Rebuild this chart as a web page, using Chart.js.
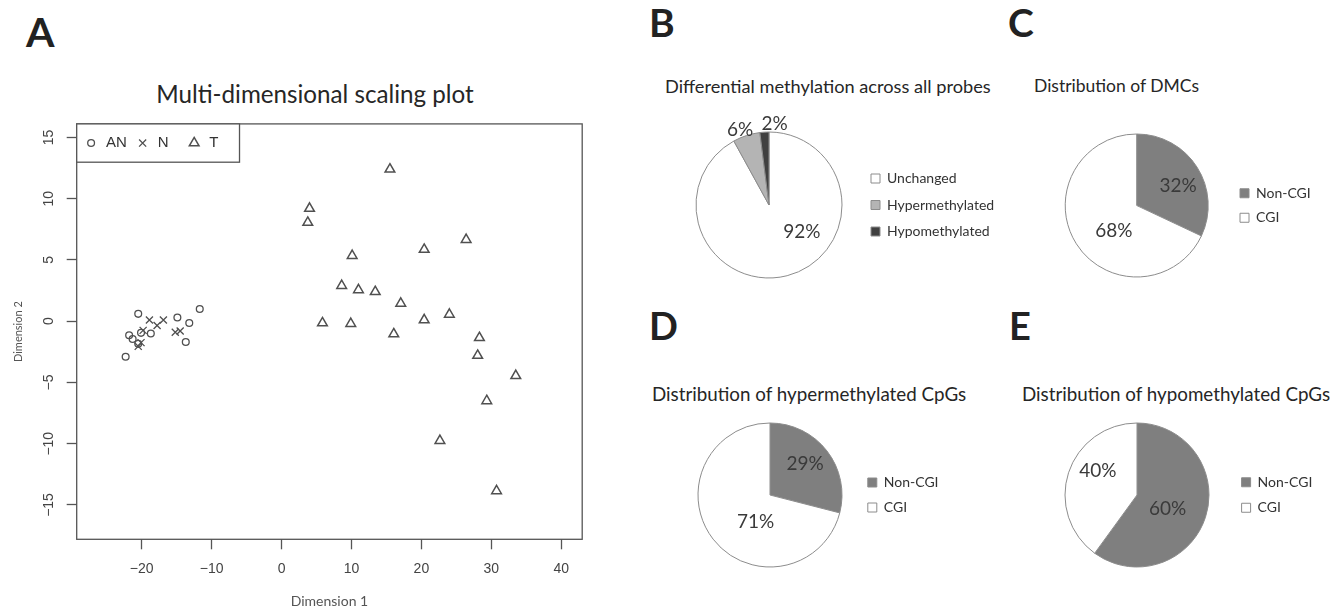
<!DOCTYPE html>
<html lang="en">
<head>
<meta charset="utf-8">
<title>Differential methylation figure</title>
<script src="https://cdn.jsdelivr.net/npm/chart.js@4.4.1/dist/chart.umd.min.js"></script>
<style>
  html, body { margin: 0; padding: 0; background: #fff; }
  body { position: relative; width: 1330px; height: 607px; overflow: hidden; }
  canvas { position: absolute; }
  .tag { position: absolute; font: 700 39px/1 Lato, sans-serif; color: #222; }
  .ttl { position: absolute; font-family: Lato, sans-serif; line-height: 1; color: #262626; white-space: nowrap; }
</style>
</head>
<body>
<div class="tag" style="left:26px;top:11px;font-size:41px">A</div>
<div class="tag" style="left:649px;top:3px">B</div>
<div class="tag" style="left:1008px;top:3px">C</div>
<div class="tag" style="left:649px;top:306px;font-size:38px">D</div>
<div class="tag" style="left:1009px;top:306px;font-size:38px">E</div>

<div class="ttl" style="left:315px;top:82px;font-size:24.2px;transform:translateX(-50%)">Multi-dimensional scaling plot</div>
<div class="ttl" style="left:665px;top:77px;font-size:18.2px">Differential methylation across all probes</div>
<div class="ttl" style="left:1034px;top:76.5px;font-size:17.5px">Distribution of DMCs</div>
<div class="ttl" style="left:652px;top:384.8px;font-size:18.8px">Distribution of hypermethylated CpGs</div>
<div class="ttl" style="left:1022px;top:384.8px;font-size:18.8px">Distribution of hypomethylated CpGs</div>

<canvas id="mds" width="600" height="500" style="left:0;top:110px"></canvas>
<canvas id="pieB"></canvas>
<canvas id="pieC"></canvas>
<canvas id="pieD"></canvas>
<canvas id="pieE"></canvas>

<script>
// --- MDS plot data ---
var anX = [-20.5, -14.9, -11.7, -13.2, -13.7, -22.3, -21.8, -21.3, -20.1, -18.7, -20.5];
var anY = [0.6, 0.3, 1.0, -0.15, -1.7, -2.9, -1.15, -1.45, -0.95, -1.0, -1.85];
var nX = [-18.9, -16.9, -17.8, -19.8, -15.2, -14.5, -20.1, -20.5];
var nY = [0.1, 0.1, -0.35, -0.75, -0.9, -0.8, -1.75, -2.05];
var tX = [15.5, 4.0, 3.75, 26.4, 20.4, 10.1, 8.6, 11.0, 13.4, 17.05, 5.85, 9.9, 20.4, 24.0, 16.05, 28.3, 28.05, 33.5, 29.35, 22.65, 30.75];
var tY = [12.4, 9.2, 8.05, 6.65, 5.85, 5.35, 2.9, 2.55, 2.4, 1.45, -0.15, -0.2, 0.1, 0.55, -1.05, -1.35, -2.8, -4.45, -6.5, -9.75, -13.85];
var xTicks = [-20, -10, 0, 10, 20, 30, 40];
var yTicks = [-15, -10, -5, 0, 5, 10, 15];

// --- pie data (percent) ---
var probeLabels = ['Unchanged', 'Hypermethylated', 'Hypomethylated'];
var probeValues = [92, 6, 2];
var cgiLabels = ['Non-CGI', 'CGI'];
var dmcValues = [32, 68];
var hyperValues = [29, 71];
var hypoValues = [60, 40];

Chart.defaults.font.family = 'Lato';

function pts(xs, ys) {
    return xs.map(function (x, i) { return { x: x, y: ys[i] }; });
}
function minus(v) {
    return String(v).replace('-', '\u2212');
}

// box round the plot area, like R's box()
var plotBox = {
    id: 'plotBox',
    beforeDatasetsDraw: function (chart) {
        var a = chart.chartArea, c = chart.ctx;
        c.save();
        c.strokeStyle = '#555';
        c.lineWidth = 1.3;
        c.strokeRect(a.left, a.top, a.right - a.left, a.bottom - a.top);
        c.restore();
    }
};

// R style horizontal legend sitting in the top-left corner
var mdsLegend = {
    id: 'mdsLegend',
    afterDatasetsDraw: function (chart, args, o) {
        var a = chart.chartArea, c = chart.ctx, sets = chart.data.datasets;
        c.save();
        c.font = o.font;
        var textW = Math.max.apply(null, sets.map(function (d) { return c.measureText(d.label).width; }));
        var step = o.symGap + textW + o.colGap;
        var x = a.left + o.inset;
        var cy = a.top + o.height / 2;
        var w = o.inset + (sets.length - 1) * step + o.symGap + textW + o.tail;
        c.fillStyle = '#fff';
        c.fillRect(a.left, a.top, w, o.height);
        c.strokeStyle = '#555';
        c.lineWidth = 1.3;
        c.strokeRect(a.left, a.top, w, o.height);
        sets.forEach(function (d, i) {
            var px = x + i * step;
            c.strokeStyle = d.pointBorderColor;
            c.fillStyle = 'rgba(0,0,0,0)';
            c.lineWidth = d.pointBorderWidth;
            Chart.helpers.drawPoint(c, { pointStyle: d.pointStyle, rotation: 0, radius: d.pointRadius, borderWidth: d.pointBorderWidth }, px, cy);
            c.fillStyle = o.color;
            c.textAlign = 'left';
            c.textBaseline = 'middle';
            c.fillText(d.label, px + o.symGap, cy);
        });
        c.restore();
    }
};

var mdsCtx = document.getElementById('mds').getContext('2d');
var mdsChart = new Chart(mdsCtx, {
    type: 'scatter',
    data: {
        datasets: [{
            label: 'AN',
            data: pts(anX, anY),
            pointStyle: 'circle',
            pointRadius: 3.4,
            pointBorderWidth: 1.3,
            pointBorderColor: '#505050',
            pointBackgroundColor: 'rgba(0,0,0,0)'
        }, {
            label: 'N',
            data: pts(nX, nY),
            pointStyle: 'crossRot',
            pointRadius: 5,
            pointBorderWidth: 1.3,
            pointBorderColor: '#505050',
            pointBackgroundColor: 'rgba(0,0,0,0)'
        }, {
            label: 'T',
            data: pts(tX, tY),
            pointStyle: 'triangle',
            pointRadius: 5.6,
            pointBorderWidth: 1.5,
            pointBorderColor: '#505050',
            pointBackgroundColor: 'rgba(0,0,0,0)'
        }]
    },
    options: {
        responsive: false,
        animation: false,
        events: [],
        layout: { padding: { left: 0, right: 17.8, top: 11.7, bottom: 0 } },
        scales: {
            x: {
                type: 'linear',
                min: -29.3,
                max: 43,
                afterBuildTicks: function (s) { s.ticks = xTicks.map(function (v) { return { value: v }; }); },
                afterFit: function (s) { s.height = 70.7; },
                border: { display: false },
                grid: { drawOnChartArea: false, tickLength: 10, tickColor: '#555', tickWidth: 1.3 },
                ticks: { font: { family: 'Liberation Sans', size: 14 }, color: '#444', padding: 11, maxRotation: 0, callback: minus },
                title: { display: true, text: 'Dimension 1', color: '#555', font: { size: 14 }, padding: { top: 0, bottom: 0 } }
            },
            y: {
                type: 'linear',
                min: -17.8,
                max: 16.1,
                afterBuildTicks: function (s) { s.ticks = yTicks.map(function (v) { return { value: v }; }); },
                afterFit: function (s) { s.width = 76.7; },
                border: { display: false },
                grid: { drawOnChartArea: false, tickLength: 10, tickColor: '#555', tickWidth: 1.3 },
                ticks: { font: { family: 'Liberation Sans', size: 14 }, color: '#444', padding: 5.5, minRotation: 90, maxRotation: 90, crossAlign: 'center', callback: minus },
                title: { display: true, text: 'Dimension 2', color: '#555', font: { size: 11 }, padding: { top: 11.7, bottom: 0 } }
            }
        },
        plugins: {
            legend: { display: false },
            tooltip: { enabled: false },
            mdsLegend: { font: '15px "Liberation Sans"', color: '#333', inset: 14.4, symGap: 15, colGap: 15.7, tail: 9.5, height: 38.3 }
        }
    },
    plugins: [plotBox, mdsLegend]
});

// percentage written on / beside every slice
var pctLabels = {
    id: 'pctLabels',
    afterDatasetsDraw: function (chart, args, o) {
        var meta = chart.getDatasetMeta(0), ds = chart.data.datasets[0], c = chart.ctx;
        c.save();
        c.font = o.font;
        c.fillStyle = o.color;
        c.textAlign = 'center';
        c.textBaseline = 'middle';
        meta.data.forEach(function (arc, i) {
            var p = (o.place && o.place[i]) || [0, 0.6];
            var ang = (arc.startAngle + arc.endAngle) / 2 + p[0] * Math.PI / 180;
            var r = arc.outerRadius * p[1];
            c.fillText(ds.data[i] + '%', arc.x + Math.cos(ang) * r, arc.y + Math.sin(ang) * r);
        });
        c.restore();
    }
};

// pie + legend on the right; the canvas is sized so the pie centre and legend land where wanted
function pieChart(id, labels, values, colors, spec) {
    var fs = 14, box = 9, pad = spec.pad;
    var m = document.createElement('canvas').getContext('2d');
    m.font = fs + 'px Lato';
    var textW = Math.max.apply(null, labels.map(function (t) { return m.measureText(t).width; }));
    var legendW = pad + box + fs / 2 + textW;
    var areaW = 2 * (spec.gap - pad);
    var x0 = spec.cx - areaW / 2, left = Math.floor(x0);
    var h = 2 * spec.r + 40, top = Math.round(spec.cy - h / 2);
    var w = Math.ceil(x0 - left + areaW + legendW) + 1;
    var el = document.getElementById(id);
    el.width = w;
    el.height = h;
    el.style.left = left + 'px';
    el.style.top = top + 'px';
    return new Chart(el, {
        type: 'pie',
        data: {
            labels: labels,
            datasets: [{
                data: values,
                backgroundColor: colors,
                borderColor: '#8c8c8c',
                borderWidth: 1,
                radius: spec.r
            }]
        },
        options: {
            responsive: false,
            animation: false,
            events: [],
            layout: { padding: { left: x0 - left, right: w - (x0 - left) - areaW - legendW, top: 0, bottom: 0 } },
            plugins: {
                legend: {
                    position: 'right',
                    labels: { boxWidth: box, boxHeight: box, padding: pad, color: '#333', font: { size: fs } }
                },
                tooltip: { enabled: false },
                pctLabels: { place: spec.place, font: '19px Lato', color: '#3a3a3a' }
            }
        },
        plugins: [pctLabels]
    });
}

var pieB = pieChart('pieB', probeLabels, probeValues, ['#ffffff', '#b4b4b4', '#404040'],
    { cx: 774, cy: 205, r: 73, gap: 107, pad: 12.5, place: [[-36.6, 0.58], [-3, 1.1], [7.6, 1.12]] });
var pieC = pieChart('pieC', cgiLabels, dmcValues, ['#7f7f7f', '#ffffff'],
    { cx: 1141.7, cy: 205.3, r: 71.5, gap: 108.3, pad: 10.5, place: [[7.5, 0.64], [-15.8, 0.48]] });
var pieD = pieChart('pieD', cgiLabels, hyperValues, ['#7f7f7f', '#ffffff'],
    { cx: 775, cy: 495, r: 72, gap: 102.8, pad: 11, place: [[-3.4, 0.65], [-24, 0.42]] });
var pieE = pieChart('pieE', cgiLabels, hypoValues, ['#7f7f7f', '#ffffff'],
    { cx: 1142, cy: 495, r: 72, gap: 109.6, pad: 11.5, place: [[7, 0.47], [13.7, 0.64]] });
</script>
</body>
</html>
